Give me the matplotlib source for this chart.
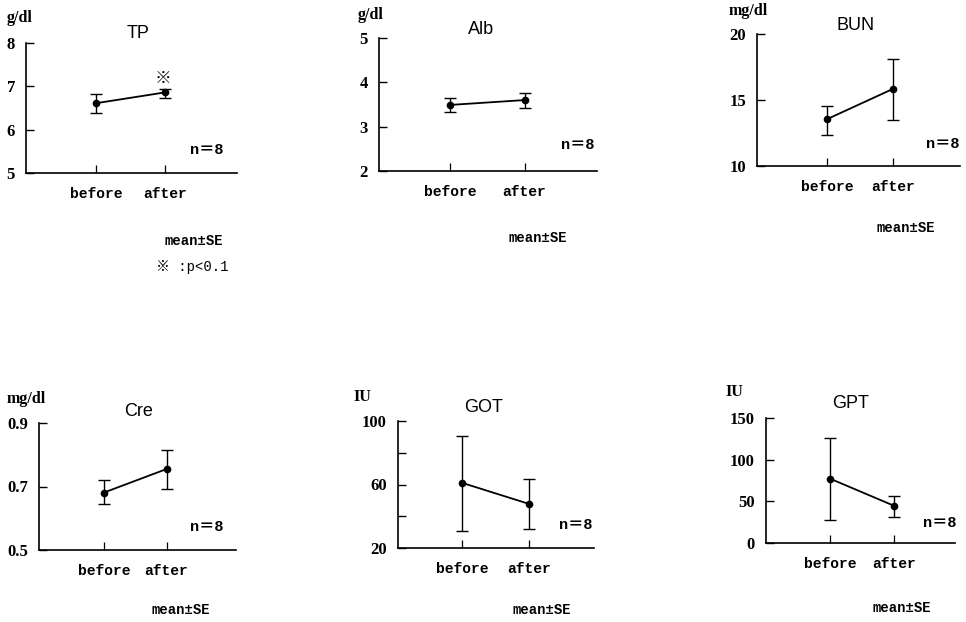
import matplotlib
matplotlib.use("Agg")
import matplotlib.pyplot as plt

# values
panels = ["TP", "Alb", "BUN", "Cre", "GOT", "GPT"]
units = ["g/dl", "g/dl", "mg/dl", "mg/dl", "IU", "IU"]
groups = ["before", "after"]

means = [[6.61, 6.86], [3.49, 3.60], [13.55, 15.85],
         [0.681, 0.755], [61.1, 47.8], [77.2, 44.6]]
err_lo = [[6.38, 6.72], [3.33, 3.41], [12.33, 13.52],
          [0.645, 0.693], [30.8, 32.1], [27.8, 31.8]]
err_hi = [[6.82, 6.94], [3.65, 3.76], [14.53, 18.1],
          [0.722, 0.814], [90.4, 63.6], [126.6, 56.9]]

yticks = [[5, 6, 7, 8], [2, 3, 4, 5], [10, 15, 20],
          [0.5, 0.7, 0.9], [20, 40, 60, 80, 100], [0, 50, 100, 150]]
ytick_labels = [["5", "6", "7", "8"], ["2", "3", "4", "5"], ["10", "15", "20"],
                ["0.5", "0.7", "0.9"], ["20", "", "60", "", "100"],
                ["0", "50", "100", "150"]]
n_text = "n＝8"
note_text = "mean±SE"
sig_text = "※ :p<0.1"

W, H = 966, 622
fig = plt.figure(figsize=(W / 100, H / 100), dpi=100)

# layout in pixels: axes box (left, right, top, bottom) and x-limits
boxes = [(26, 237, 43, 173), (379, 597, 38, 171), (757, 960, 34, 166),
         (39, 236, 423, 550), (398, 594, 421, 548), (766, 955, 418, 543)]
xlims = [(-1.01, 2.04), (-0.95, 1.97), (-1.06, 2.01),
         (-1.04, 2.11), (-0.95, 1.97), (-1.0, 1.95)]
unit_pos = [(20, 18), (371, 15), (748, 11), (26, 399), (362, 397), (734, 392)]
title_pos = [(138, 33), (481, 29), (856, 25), (139, 412), (484, 408), (851, 403)]
n_pos = [(207, 150), (578, 145), (943, 144), (207, 527), (576, 525), (940, 523)]
note_pos = [(194, 241), (538, 238), (906, 228), (181, 610), (542, 610), (902, 608)]

mono = ["Liberation Mono", "Noto Sans CJK JP"]
serif = ["Liberation Serif", "Noto Sans CJK JP"]


def ftext(px, py, s, **kw):
    fig.text(px / W, 1 - py / H, s, ha="center", va="center", **kw)


for i, name in enumerate(panels):
    l, r, t, b = boxes[i]
    ax = fig.add_axes([l / W, 1 - b / H, (r - l) / W, (b - t) / H])
    x = list(range(len(groups)))
    yerr = [[m - lo for m, lo in zip(means[i], err_lo[i])],
            [hi - m for m, hi in zip(means[i], err_hi[i])]]
    ax.errorbar(x, means[i], yerr=yerr, color="black", lw=1.3,
                elinewidth=1.0, capsize=4, capthick=1.0,
                marker="o", ms=4.5, clip_on=False)
    ax.set_xlim(*xlims[i])
    ax.set_ylim(yticks[i][0], yticks[i][-1])
    ax.set_yticks(yticks[i])
    ax.set_yticklabels(ytick_labels[i], fontfamily=serif, fontsize=12,
                       fontweight="bold")
    ax.set_xticks(x)
    ax.set_xticklabels(groups, fontfamily=mono, fontsize=10.5,
                       fontweight="bold")
    ax.tick_params(axis="y", direction="in", length=6, width=1.0, pad=8)
    ax.tick_params(axis="x", direction="in", length=6, width=0.9, pad=10)
    for s in ("top", "right"):
        ax.spines[s].set_visible(False)
    for s in ("left", "bottom"):
        ax.spines[s].set_linewidth(1.2)

    ftext(*unit_pos[i], units[i], fontfamily=serif, fontsize=11.5,
          fontweight="bold")
    ftext(*title_pos[i], name, fontfamily=["Liberation Sans"], fontsize=13)
    ftext(*n_pos[i], n_text, fontfamily=mono, fontsize=11, fontweight="bold")
    ftext(*note_pos[i], note_text, fontfamily=mono, fontsize=10,
          fontweight="bold")

# significance mark on TP
ftext(163, 78, "※", fontfamily=["Noto Sans CJK JP"], fontsize=12)
ftext(192, 267, sig_text, fontfamily=mono, fontsize=10)

fig.savefig("out.png", dpi=100, facecolor="white")
